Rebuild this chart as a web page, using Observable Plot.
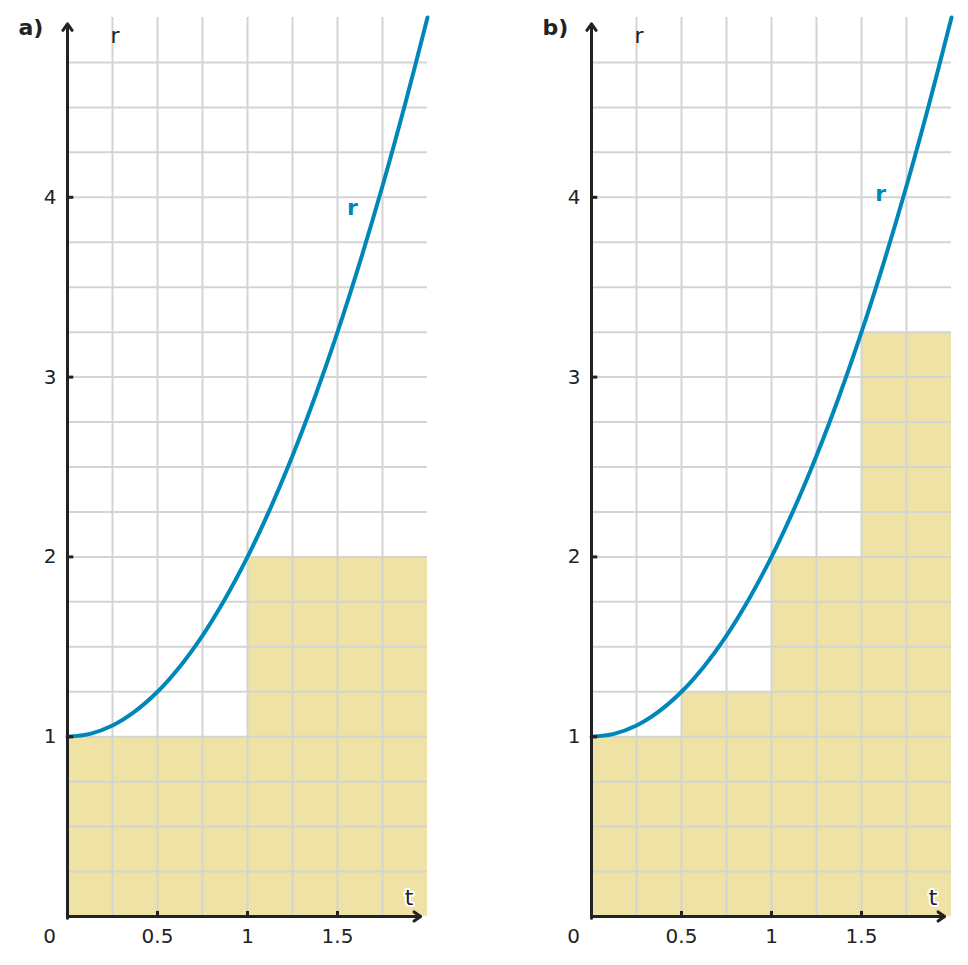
<!DOCTYPE html>
<html>
<head>
<meta charset="utf-8">
<script src="https://cdn.jsdelivr.net/npm/d3@7"></script>
<script src="https://cdn.jsdelivr.net/npm/@observablehq/plot@0.6"></script>
<style>
  html, body { margin: 0; padding: 0; background: #fff; }
  #wrap { display: flex; flex-direction: row; width: 968px; height: 965px; }
  svg { font-family: "DejaVu Sans", sans-serif; }
</style>
</head>
<body>
<div id="wrap"></div>
<script>
// Curve r(t)
const curveT = [0, 0.125, 0.25, 0.375, 0.5, 0.625, 0.75, 0.875, 1, 1.125, 1.25, 1.375, 1.5, 1.625, 1.75, 1.875, 2];
const curveR = [1, 1.016, 1.0625, 1.141, 1.25, 1.391, 1.5625, 1.766, 2, 2.266, 2.5625, 2.891, 3.25, 3.641, 4.0625, 4.516, 5];

// Panel a) step rectangles
const stepsA_t0 = [0, 1];
const stepsA_t1 = [1, 2];
const stepsA_r  = [1, 2];

// Panel b) step rectangles
const stepsB_t0 = [0, 0.5, 1, 1.5];
const stepsB_t1 = [0.5, 1, 1.5, 2];
const stepsB_r  = [1, 1.25, 2, 3.25];

// Grid and ticks
const gridT = [0.25, 0.5, 0.75, 1, 1.25, 1.5, 1.75];
const gridR = [0.25, 0.5, 0.75, 1, 1.25, 1.5, 1.75, 2, 2.25, 2.5, 2.75, 3, 3.25, 3.5, 3.75, 4, 4.25, 4.5, 4.75];
const xTicks = [0.5, 1, 1.5];
const xTickLabels = ["0.5", "1", "1.5"];
const yTicks = [1, 2, 3, 4];
const yTickLabels = ["1", "2", "3", "4"];

const panelLabels = ["a)", "b)"];

const curve = curveT.map((t, i) => ({t, r: curveR[i]}));
const stepsA = stepsA_t0.map((t0, i) => ({t0, t1: stepsA_t1[i], r: stepsA_r[i]}));
const stepsB = stepsB_t0.map((t0, i) => ({t0, t1: stepsB_t1[i], r: stepsB_r[i]}));

const AXIS = "#222222";
const BLUE = "#0087ba";
const FILL = "#eee2a5";
const GRID = "#d4d4d4";

function panel(steps, label, width, marginRight, curveLabelPos) {
  return Plot.plot({
    width,
    height: 965,
    marginLeft: 67,
    marginRight,
    marginTop: 17,
    marginBottom: 49,
    x: {domain: [0, 2], axis: null},
    y: {domain: [0, 5], axis: null},
    style: {fontFamily: "DejaVu Sans, sans-serif", background: "transparent"},
    marks: [
      Plot.rect(steps, {x1: "t0", x2: "t1", y1: 0, y2: "r", fill: FILL}),
      Plot.ruleX(gridT, {x: d => d, y1: 0, y2: 5, stroke: GRID, strokeWidth: 2}),
      Plot.ruleY(gridR, {y: d => d, x1: 0, x2: 2, stroke: GRID, strokeWidth: 2}),
      Plot.line(curve, {x: "t", y: "r", curve: "catmull-rom", stroke: BLUE, strokeWidth: 4}),
      // y axis with arrow
      Plot.arrow([0], {x1: 0, y1: -0.01, x2: 0, y2: 4.965, stroke: AXIS, strokeWidth: 3, headLength: 4, headAngle: 70}),
      // x axis with arrow
      Plot.arrow([0], {x1: 0.01, y1: 0, x2: 1.962, y2: 0, stroke: AXIS, strokeWidth: 3, headLength: 4, headAngle: 70}),
      // ticks
      Plot.ruleX(xTicks, {x: d => d, y1: 0, y2: 0.028, stroke: AXIS, strokeWidth: 3}),
      Plot.ruleY(yTicks, {y: d => d, x1: 0, x2: 0.035, stroke: AXIS, strokeWidth: 3}),
      // tick labels
      Plot.text(xTicks, {x: d => d, y: 0, text: (d, i) => xTickLabels[i], dy: 20, lineAnchor: "middle", fontSize: 20, fill: AXIS}),
      Plot.text(["0"], {x: 0, y: 0, text: d => d, dx: -18, dy: 20, lineAnchor: "middle", fontSize: 20, fill: AXIS}),
      Plot.text(yTicks, {x: 0, y: d => d, text: (d, i) => yTickLabels[i], dx: -11, textAnchor: "end", lineAnchor: "middle", fontSize: 20, fill: AXIS}),
      // axis labels
      Plot.text(["r"], {frameAnchor: "top-left", text: d => d, dx: 43, dy: 18, lineAnchor: "middle", fontSize: 22, fill: AXIS}),
      Plot.text(["t"], {frameAnchor: "bottom-right", text: d => d, dx: -14, dy: -19, lineAnchor: "middle", fontSize: 22, fill: AXIS, stroke: "white", strokeWidth: 4}),
      // curve label
      Plot.text(["r"], {x: curveLabelPos[0], y: curveLabelPos[1], text: d => d, fontSize: 22, fontWeight: "bold", fill: BLUE, lineAnchor: "middle"}),
      // panel label
      Plot.text([label], {frameAnchor: "top-left", text: d => d, dx: -49, dy: 10, textAnchor: "start", lineAnchor: "middle", fontSize: 22, fontWeight: "bold", fill: AXIS})
    ]
  });
}

const wrap = document.getElementById("wrap");
wrap.appendChild(panel(stepsA, panelLabels[0], 524, 97, [1.583, 3.94]));
wrap.appendChild(panel(stepsB, panelLabels[1], 444, 17, [1.606, 4.02]));
</script>
</body>
</html>
